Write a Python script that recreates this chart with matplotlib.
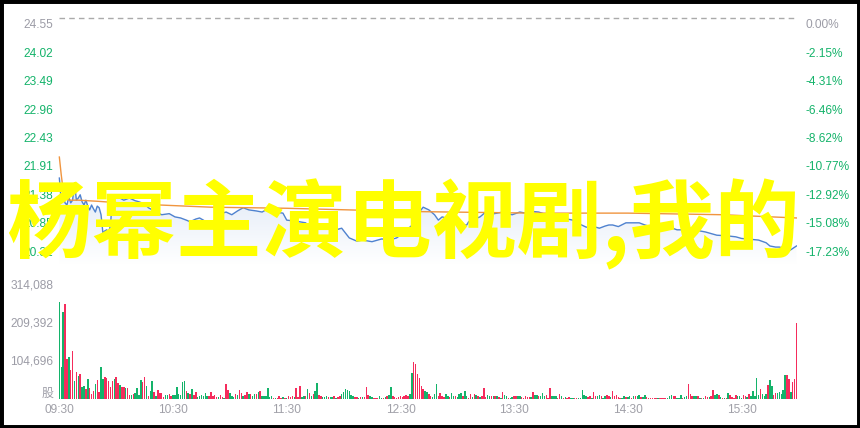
import numpy as np
import matplotlib
matplotlib.use('Agg')
import matplotlib.pyplot as plt
import matplotlib.transforms as mtransforms
from matplotlib.patches import Rectangle, Polygon

# ---------------- data ----------------
prev_close = 24.55
price_ticks = [24.55, 24.02, 23.49, 22.96, 22.43, 21.91, 21.38, 20.85, 20.32]
price_tick_labels = ['24.55', '24.02', '23.49', '22.96', '22.43', '21.91', '21.38', '20.85', '20.32']
pct_tick_labels = ['0.00%', '-2.15%', '-4.31%', '-6.46%', '-8.62%', '-10.77%', '-12.92%', '-15.08%', '-17.23%']
vol_ticks = [314088, 209392, 104696]
vol_tick_labels = ['314,088', '209,392', '104,696']
time_labels = ['09:30', '10:30', '11:30', '12:30', '13:30', '14:30', '15:30']
time_label_minutes = [0, 60, 120, 180, 240, 300, 360]
overlay_text = '杨幂主演电视剧,我的'

price_minutes = [0, 1, 2, 3, 4, 5, 6, 7, 8, 9, 10, 11, 12, 13, 14, 15, 16, 17, 18, 19, 20, 21, 22, 23, 24,
                 25, 26, 27, 28, 30, 32, 34, 37, 40, 42, 45, 47, 50, 54, 58, 61, 64, 67, 69, 72, 74, 76,
                 78, 81, 84, 86, 88, 91, 94, 97, 100, 104, 107, 109, 113, 118, 120, 125, 130, 132, 136,
                 140, 146, 149, 153, 157, 160, 165, 170, 175, 178, 181, 183, 185, 187, 190, 192, 195, 198,
                 200, 202, 204, 206, 209, 213, 215, 216, 219, 222, 225, 228, 231, 234, 236, 239, 243, 246,
                 250, 253, 257, 260, 264, 268, 271, 275, 278, 283, 285, 288, 290, 292, 295, 299, 302, 306,
                 309, 311, 314, 317, 322, 326, 331, 334, 338, 341, 344, 347, 352, 357, 360, 363, 366, 369,
                 373, 375, 378, 380, 382, 384, 386, 389]
price_values = [21.58, 21.17, 21.27, 21.12, 21.08, 21.23, 21.12, 21.17, 21.49, 21.17, 21.21, 21.27, 21.14,
                21.08, 21.17, 21.06, 20.99, 21.08, 21.01, 20.95, 21.06, 21.03, 20.90, 20.56, 20.60, 20.62,
                20.58, 20.70, 21.25, 21.23, 21.21, 21.17, 21.21, 21.16, 21.14, 21.10, 21.03, 20.97, 20.90,
                20.92, 20.86, 20.84, 20.80, 20.77, 20.82, 20.84, 20.80, 20.75, 20.77, 20.88, 20.93, 20.95,
                20.90, 20.97, 21.03, 20.99, 20.97, 20.95, 20.99, 20.95, 20.93, 20.80, 20.78, 20.75, 20.65,
                20.63, 20.66, 20.62, 20.65, 20.47, 20.41, 20.43, 20.40, 20.45, 20.44, 20.47, 20.55, 20.62,
                20.67, 20.73, 20.95, 21.04, 20.99, 20.90, 20.80, 20.86, 20.84, 20.84, 20.78, 20.71, 20.71,
                20.77, 20.82, 20.86, 20.95, 20.91, 20.93, 20.95, 20.92, 20.90, 20.95, 20.93, 20.96, 20.95,
                20.90, 20.88, 20.84, 20.82, 20.80, 20.72, 20.67, 20.67, 20.65, 20.69, 20.71, 20.71, 20.68,
                20.75, 20.75, 20.75, 20.71, 20.69, 20.70, 20.67, 20.67, 20.62, 20.62, 20.65, 20.60, 20.58,
                20.55, 20.52, 20.51, 20.49, 20.46, 20.45, 20.44, 20.43, 20.38, 20.32, 20.30, 20.30, 20.28,
                20.21, 20.25, 20.32]

avg_minutes = [0, 1, 2, 3, 5, 10, 20, 40, 80, 120, 185, 250, 300, 350, 389]
avg_values = [21.97, 21.64, 21.36, 21.23, 21.17, 21.17, 21.15, 21.10, 21.04, 21.02, 20.96, 20.93, 20.93,
              20.90, 20.84]

# per-minute volume, thousands of shares (390 minutes)
volume_k = [
    267, 87, 241, 263, 110, 117, 79, 131, 49, 74,
    64, 69, 33, 37, 28, 56, 30, 15, 23, 42,
    53, 20, 87, 56, 60, 59, 50, 33, 50, 56,
    61, 43, 39, 33, 33, 31, 29, 11, 12, 14,
    17, 31, 11, 53, 46, 60, 37, 9, 23, 50,
    19, 9, 26, 17, 17, 6, 10, 12, 15, 8,
    10, 12, 33, 15, 10, 46, 50, 23, 17, 14,
    28, 11, 18, 5, 7, 11, 7, 17, 7, 9,
    18, 7, 11, 5, 6, 11, 5, 4, 41, 26,
    17, 9, 5, 14, 11, 26, 17, 7, 11, 18,
    13, 13, 9, 13, 13, 18, 22, 9, 9, 7,
    29, 5, 7, 4, 4, 4, 7, 4, 6, 4,
    4, 7, 6, 9, 5, 31, 5, 36, 5, 7,
    7, 28, 17, 7, 13, 23, 44, 11, 7, 6,
    6, 7, 6, 5, 6, 9, 4, 6, 9, 13,
    20, 28, 26, 23, 11, 9, 6, 6, 4, 6,
    6, 6, 32, 11, 7, 6, 4, 4, 4, 9,
    4, 4, 6, 9, 11, 32, 9, 6, 4, 6,
    9, 5, 7, 11, 9, 13, 72, 103, 96, 69,
    57, 37, 28, 23, 18, 14, 9, 5, 15, 41,
    9, 17, 9, 6, 13, 7, 5, 17, 9, 7,
    5, 15, 17, 7, 23, 7, 4, 13, 6, 15,
    11, 7, 6, 7, 29, 6, 11, 9, 7, 9,
    7, 9, 6, 4, 20, 11, 7, 4, 4, 6,
    7, 7, 9, 7, 6, 4, 7, 6, 6, 5,
    20, 11, 11, 9, 7, 17, 7, 11, 4, 29,
    9, 9, 7, 4, 15, 9, 4, 6, 4, 6,
    4, 4, 4, 2, 4, 4, 24, 11, 7, 6,
    9, 4, 20, 9, 7, 11, 7, 4, 7, 11,
    9, 6, 22, 7, 11, 6, 4, 4, 9, 6,
    5, 7, 4, 7, 7, 7, 11, 6, 6, 11,
    6, 4, 4, 4, 4, 4, 2, 4, 4, 2,
    3, 2, 7, 11, 9, 9, 4, 4, 11, 4,
    6, 7, 42, 15, 7, 9, 7, 7, 4, 4,
    3, 7, 6, 6, 7, 26, 11, 13, 11, 6,
    4, 4, 4, 17, 11, 6, 4, 11, 9, 7,
    4, 11, 7, 6, 13, 9, 22, 7, 57, 11,
    28, 13, 9, 13, 39, 53, 35, 11, 17, 17,
    18, 13, 24, 66, 66, 55, 20, 46, 55, 209,
]
# r = up (red), g = down (green)
volume_dir = ''.join([
    'gggrrgrrgr', 'grggrgrrrg', 'rrggrrrrrg', 'rrgrrgrrgr', 'ggggrrgrgg',
    'rgrrrrggrr', 'gggggggrgr', 'grrggggggr', 'rrrrgrrgrr', 'gggrgrrgrr',
    'grggrgrggg', 'gggrgrrrgr', 'grrrgrrrgg', 'rgrgrggrrg', 'ggrggrgrrg',
    'ggggggrrgr', 'grrrggrrrg', 'grgrggrrrr', 'rrrrrggrrr', 'rrrggrrggg',
    'rrrrggrggr', 'gggrggrrgr', 'grgrrrggrg', 'rgrgrggrgg', 'rrggrrrrrg',
    'rggrgggrrr', 'gggrrgrgrr', 'ggrrgggggr', 'rgrrggrggr', 'rgrrrrrggr',
    'ggrgrggrgg', 'rrrrrrgrrr', 'rgggrrgggr', 'ggrrrggrgr', 'grrgrrggrg',
    'rgrgrrrrgg', 'grrgrggggg', 'rgggrggrrg', 'ggggrrgrrr',
])

# ---------------- layout (pixels) ----------------
W, H, DPI = 860, 428, 100
X0, X1 = 58.4, 797.4
P_TOP, P_BOT = 10, 265
V_TOP, V_BOT = 280, 399
PX_PER_UNIT = 53.9
Y_PREV = 18

GREEN = '#14b36a'
RED = '#f52c5c'
GRAY = '#9c9ca6'
FS = 8.6

fig = plt.figure(figsize=(W / DPI, H / DPI), dpi=DPI)
fig.patch.set_facecolor('white')

def fx(px):
    return px / W

def fy(py):
    return (H - py) / H

axp = fig.add_axes([fx(X0), fy(P_BOT), fx(X1 - X0), (P_BOT - P_TOP) / H])
axv = fig.add_axes([fx(X0), fy(V_BOT), fx(X1 - X0), (V_BOT - V_TOP) / H])
for a in (axp, axv):
    a.set_xlim(-0.5, 389.5)
    a.axis('off')

ytop = prev_close + (Y_PREV - P_TOP) / PX_PER_UNIT
ybot = prev_close - (P_BOT - Y_PREV) / PX_PER_UNIT
axp.set_ylim(ybot, ytop)

# gradient fill under price line
pm = np.array(price_minutes, dtype=float)
pv = np.array(price_values, dtype=float)
grad = np.zeros((200, 2, 4))
grad[..., 0] = 0.84
grad[..., 1] = 0.89
grad[..., 2] = 0.96
alpha = np.linspace(0.0, 0.8, 200)[:, None]
grad[..., 3] = alpha
im = axp.imshow(grad, extent=[pm[0], pm[-1], ybot, max(pv)], origin='lower',
                aspect='auto', zorder=1, interpolation='bilinear')
poly = Polygon(np.column_stack([np.r_[pm, pm[-1], pm[0]], np.r_[pv, ybot, ybot]]),
               closed=True, facecolor='none', edgecolor='none', transform=axp.transData)
axp.add_patch(poly)
im.set_clip_path(poly)
axp.set_xlim(-0.5, 389.5)
axp.set_ylim(ybot, ytop)

# prev close dashed line
axp.plot([0, 388], [prev_close, prev_close], color='#aaaaaa', lw=1.0,
         dashes=(4, 3), zorder=2)
axp.plot(pm, pv, color='#4f82cf', lw=1.0, zorder=3)
axp.plot(avg_minutes, avg_values, color='#f0953f', lw=1.0, zorder=4)

# volume bars
vols = np.array(volume_k, dtype=float) * 1000
mins = np.arange(len(vols))
cols = [RED if d == 'r' else GREEN for d in volume_dir]
axv.bar(mins, vols, width=0.78, color=cols, linewidth=0)
axv.set_ylim(0, (V_BOT - V_TOP) * 104696 / 38)

# price labels (left) and percent labels (right), drawn slightly under their level
off = mtransforms.ScaledTranslation(0, -7 / DPI, fig.dpi_scale_trans)
tr_p = mtransforms.blended_transform_factory(fig.transFigure, axp.transData) + off
for i, (v, lab, plab) in enumerate(zip(price_ticks, price_tick_labels, pct_tick_labels)):
    c = GRAY if i == 0 else GREEN
    fig.text(fx(53.5), v, lab, transform=tr_p, ha='right', va='center', fontsize=FS,
             color=c, family='Liberation Sans')
    fig.text(fx(805), v, plab, transform=tr_p, ha='left', va='center', fontsize=FS,
             color=c, family='Liberation Sans')

tr_v = mtransforms.blended_transform_factory(fig.transFigure, axv.transData)
for v, lab in zip(vol_ticks, vol_tick_labels):
    fig.text(fx(53.5), v, lab, transform=tr_v, ha='right', va='center', fontsize=FS,
             color=GRAY, family='Liberation Sans')
fig.text(fx(53.5), fy(393), '股', ha='right', va='center', fontsize=FS, color=GRAY,
         family=['Noto Sans CJK SC', 'DejaVu Sans'])

tr_t = mtransforms.blended_transform_factory(axv.transData, fig.transFigure)
for m, lab in zip(time_label_minutes, time_labels):
    fig.text(m, fy(410), lab, transform=tr_t, ha='center', va='center', fontsize=FS,
             color='#a0a0a8', family='Liberation Sans')

# overlay title text
fig.text(fx(6), fy(224), overlay_text, ha='left', va='center', fontsize=61.3,
         color='#ffff00', fontweight='bold', family=['Noto Sans CJK SC', 'DejaVu Sans'],
         zorder=10)

# black frame
fig.patches.append(Rectangle((0, 0), 1, 1, transform=fig.transFigure, fill=False,
                             edgecolor='black', linewidth=5.0, zorder=20))

fig.savefig('out.png', dpi=DPI, facecolor='white')
